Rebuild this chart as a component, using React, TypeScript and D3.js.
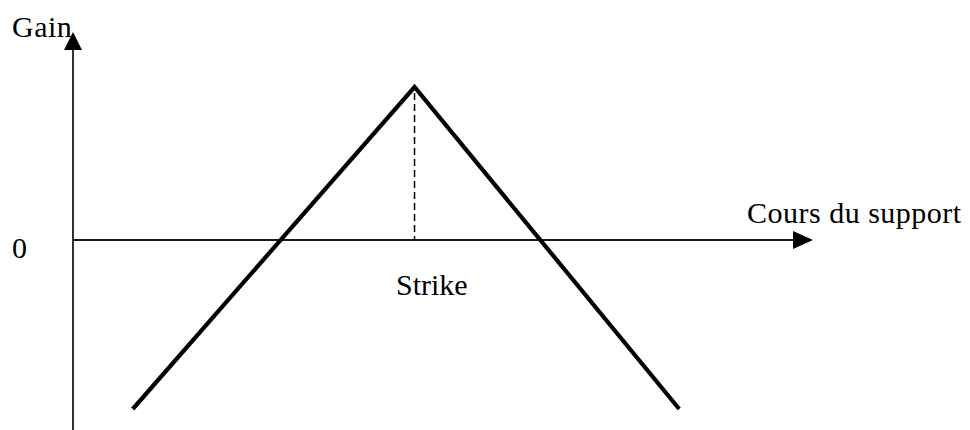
import React from "react";
import * as d3 from "d3";

const W = 970;
const H = 430;

// payoff data (underlying price -> gain)
const prices = [21, 120, 213];
const gains = [-169, 153, -169];
const strike = 120;

const xLabel = "Cours du support";
const yLabel = "Gain";
const zeroLabel = "0";
const strikeLabel = "Strike";

export default function App() {
  const x = d3.scaleLinear().domain([0, 260]).range([73, 813]);
  const y = d3.scaleLinear().domain([-190, 208]).range([430, 32]);

  const pts: [number, number][] = prices.map((p, i) => [p, gains[i]]);
  const line = d3
    .line<[number, number]>()
    .x((d) => x(d[0]))
    .y((d) => y(d[1]));

  const x0 = x(0);
  const y0 = y(0);
  const xEnd = x(260);
  const yTop = y(208);
  const yBot = y(-190);
  const peak = gains[prices.indexOf(strike)];

  const font = "'Liberation Serif', 'Times New Roman', serif";

  return (
    <svg
      width={W}
      height={H}
      style={{ position: "absolute", left: 0, top: 0, background: "#fff" }}
    >
      <rect width={W} height={H} fill="#fff" />
      {/* y axis */}
      <line x1={x0} y1={yBot} x2={x0} y2={yTop + 14} stroke="#1a1a1a" strokeWidth={1.8} />
      <polygon
        points={`${x0},${yTop} ${x0 - 9},${yTop + 18} ${x0 + 9},${yTop + 18}`}
        fill="#000"
      />
      {/* x axis */}
      <line x1={x0} y1={y0} x2={xEnd - 14} y2={y0} stroke="#1a1a1a" strokeWidth={1.8} />
      <polygon
        points={`${xEnd},${y0} ${xEnd - 20},${y0 - 9} ${xEnd - 20},${y0 + 9}`}
        fill="#000"
      />
      {/* strike dashed line */}
      <line
        x1={x(strike)}
        y1={y(peak) + 6}
        x2={x(strike)}
        y2={y0}
        stroke="#000"
        strokeWidth={1.5}
        strokeDasharray="7,4"
      />
      {/* payoff */}
      <path d={line(pts) || ""} fill="none" stroke="#000" strokeWidth={4.2} strokeLinejoin="miter" />
      {/* labels */}
      <text x={12} y={37} fontFamily={font} fontSize={30} fill="#000" letterSpacing={0.5}>
        {yLabel}
      </text>
      <text x={12} y={258} fontFamily={font} fontSize={30} fill="#000">
        {zeroLabel}
      </text>
      <text x={747} y={223} fontFamily={font} fontSize={30} fill="#000" letterSpacing={0.5}>
        {xLabel}
      </text>
      <text x={396} y={295} fontFamily={font} fontSize={30} fill="#000">
        {strikeLabel}
      </text>
    </svg>
  );
}
